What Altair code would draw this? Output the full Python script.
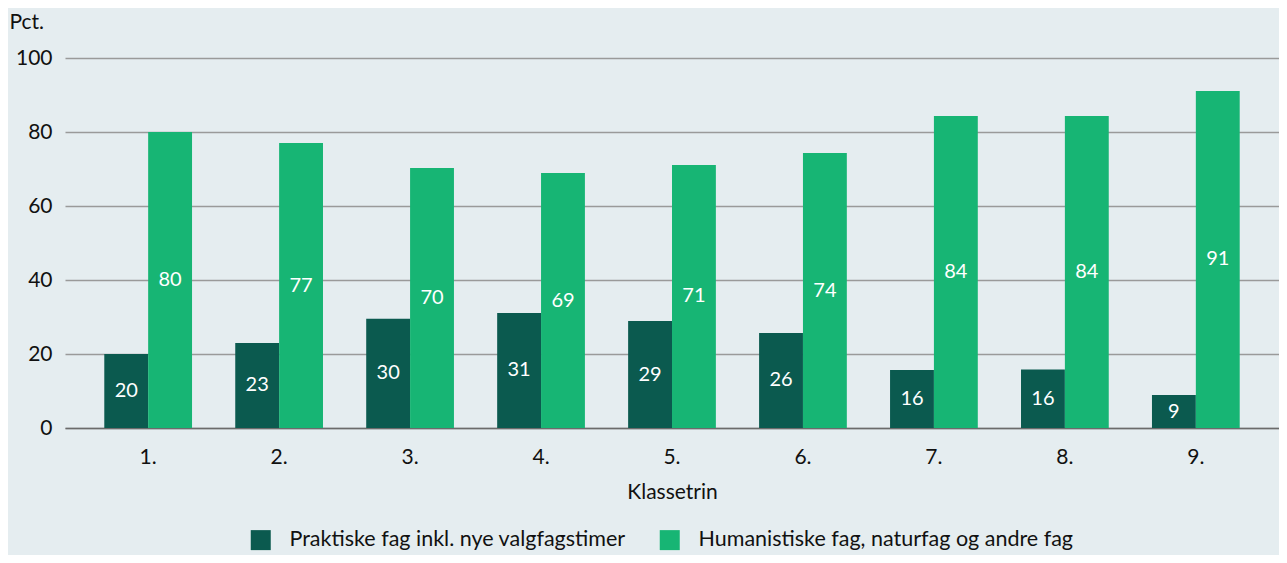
import altair as alt
import pandas as pd

categories = ["1.", "2.", "3.", "4.", "5.", "6.", "7.", "8.", "9."]
series_names = ["Praktiske fag inkl. nye valgfagstimer",
                "Humanistiske fag, naturfag og andre fag"]
praktiske = [20, 23, 29.5, 31.1, 28.9, 25.7, 15.7, 15.8, 8.9]
humanistiske = [80, 77, 70.3, 68.9, 71.1, 74.3, 84.3, 84.3, 91.1]
colors = ["#0b5a4f", "#17b574"]

rows = []
for i, c in enumerate(categories):
    rows.append({"klasse": c, "serie": series_names[0], "order": 0, "value": praktiske[i]})
    rows.append({"klasse": c, "serie": series_names[1], "order": 1, "value": humanistiske[i]})
df = pd.DataFrame(rows)
df["label"] = df["value"].round(0).astype(int).astype(str)
df["mid"] = df["value"] / 2

FONT = "Lato"
FS = 21

x_enc = alt.X("klasse:N", sort=categories, title="Klassetrin",
              scale=alt.Scale(paddingInner=0.33, paddingOuter=0.3),
              axis=alt.Axis(labelAngle=0, ticks=False, labelPadding=18,
                            labelFontSize=FS, titleFontSize=FS, titlePadding=14,
                            labelColor="#111", titleColor="#111", titleFontWeight="normal",
                            domain=True, domainColor="#6b6b6b", domainWidth=1.5,
                            labelFont=FONT, titleFont=FONT))
xoff = alt.XOffset("serie:N", sort=series_names)

bars = alt.Chart(df).mark_bar().encode(
    x=x_enc,
    xOffset=xoff,
    y=alt.Y("value:Q", scale=alt.Scale(domain=[0, 100]),
            title="Pct.",
            axis=alt.Axis(values=[0, 20, 40, 60, 80, 100], ticks=False, domain=False,
                          grid=True, gridColor="#9a9a9a", gridWidth=1.3,
                          labelPadding=13, labelFontSize=FS, labelColor="#111",
                          labelFont=FONT, titleFont=FONT,
                          titleAngle=0, titleAlign="left", titleBaseline="middle",
                          titleX=-56, titleY=-36, titleFontSize=FS,
                          titleFontWeight="normal", titleColor="#111")),
    color=alt.Color("serie:N", sort=series_names,
                    scale=alt.Scale(domain=series_names, range=colors),
                    legend=alt.Legend(title=None, orient="none", direction="horizontal",
                                      legendX=185, legendY=471,
                                      symbolType="square", symbolSize=400,
                                      symbolStrokeWidth=0, symbolOpacity=1,
                                      labelFontSize=21.5, labelFont=FONT, labelColor="#111",
                                      labelOffset=18, columnPadding=33, labelLimit=600)),
)

texts = alt.Chart(df).mark_text(color="white", fontSize=20, font=FONT,
                                baseline="middle", align="center").encode(
    x=alt.X("klasse:N", sort=categories),
    xOffset=xoff,
    y=alt.Y("mid:Q"),
    text="label:N",
)

chart = alt.layer(bars, texts).properties(
    width=1214, height=370,
    autosize=alt.AutoSizeParams(type="none"),
    padding={"left": 57, "top": 50, "right": 0, "bottom": 127},
    background="#e5edf0",
).configure_view(stroke=None).configure_axisX(grid=False)

chart.save("out.html", embed_options={"renderer": "svg", "actions": False})
